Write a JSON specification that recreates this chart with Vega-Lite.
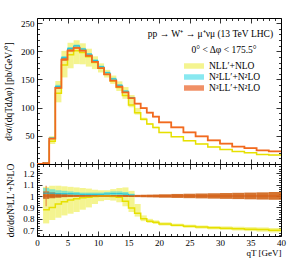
{
  "$schema": "https://vega.github.io/schema/vega-lite/v6.json",
  "padding": {"left": 3, "top": 17, "right": 9, "bottom": 0},
  "spacing": 0,
  "bounds": "flush",
  "config": {
    "font": "Liberation Serif",
    "view": {"stroke": "#000", "strokeWidth": 1},
    "axis": {"grid": false, "domain": false, "minExtent": 0, "tickColor": "#000", "labelColor": "#000", "titleColor": "#000", "labelFont": "Liberation Serif", "titleFont": "Liberation Serif", "labelFontSize": 9, "titleFontSize": 9.5, "titleFontWeight": "normal", "tickWidth": 0.8},
    "legend": {"labelFont": "Liberation Serif", "labelColor": "#000"}
  },
  "resolve": {"scale": {"fill": "independent"}},
  "datasets": {
    "tb": [
      {"model": "NLL′+NLO", "lo": 1, "hi": 2, "lower": 1.14, "upper": 1.62},
      {"model": "NLL′+NLO", "lo": 2, "hi": 3, "lower": 35.6, "upper": 49.1},
      {"model": "NLL′+NLO", "lo": 3, "hi": 4, "lower": 109.4, "upper": 147.2},
      {"model": "NLL′+NLO", "lo": 4, "hi": 5, "lower": 153.6, "upper": 200.7},
      {"model": "NLL′+NLO", "lo": 5, "hi": 6, "lower": 169.8, "upper": 215.1},
      {"model": "NLL′+NLO", "lo": 6, "hi": 7, "lower": 177.2, "upper": 219.5},
      {"model": "NLL′+NLO", "lo": 7, "hi": 8, "lower": 176.9, "upper": 214.1},
      {"model": "NLL′+NLO", "lo": 8, "hi": 9, "lower": 172.8, "upper": 204.5},
      {"model": "NLL′+NLO", "lo": 9, "hi": 10, "lower": 168.3, "upper": 191.0},
      {"model": "NLL′+NLO", "lo": 10, "hi": 11, "lower": 162.4, "upper": 178.5},
      {"model": "NLL′+NLO", "lo": 11, "hi": 12, "lower": 153.4, "upper": 167.0},
      {"model": "NLL′+NLO", "lo": 12, "hi": 13, "lower": 142.1, "upper": 156.9},
      {"model": "NLL′+NLO", "lo": 13, "hi": 14, "lower": 129.5, "upper": 146.6},
      {"model": "NLL′+NLO", "lo": 14, "hi": 15, "lower": 115.6, "upper": 136.5},
      {"model": "NLL′+NLO", "lo": 15, "hi": 16, "lower": 100.6, "upper": 122.3},
      {"model": "NLL′+NLO", "lo": 16, "hi": 17, "lower": 87.7, "upper": 99.5},
      {"model": "NLL′+NLO", "lo": 17, "hi": 18, "lower": 77.2, "upper": 82.2},
      {"model": "NLL′+NLO", "lo": 18, "hi": 19, "lower": 69.6, "upper": 72.8},
      {"model": "NLL′+NLO", "lo": 19, "hi": 20, "lower": 63.4, "upper": 66.1},
      {"model": "NLL′+NLO", "lo": 20, "hi": 22, "lower": 54.9, "upper": 57.0},
      {"model": "NLL′+NLO", "lo": 22, "hi": 24, "lower": 47.6, "upper": 49.3},
      {"model": "NLL′+NLO", "lo": 24, "hi": 26, "lower": 40.4, "upper": 41.9},
      {"model": "NLL′+NLO", "lo": 26, "hi": 28, "lower": 35.0, "upper": 36.4},
      {"model": "NLL′+NLO", "lo": 28, "hi": 30, "lower": 29.7, "upper": 31.0},
      {"model": "NLL′+NLO", "lo": 30, "hi": 32, "lower": 25.3, "upper": 26.4},
      {"model": "NLL′+NLO", "lo": 32, "hi": 34, "lower": 21.6, "upper": 22.7},
      {"model": "NLL′+NLO", "lo": 34, "hi": 36, "lower": 19.4, "upper": 20.4},
      {"model": "NLL′+NLO", "lo": 36, "hi": 38, "lower": 16.5, "upper": 17.4},
      {"model": "NLL′+NLO", "lo": 38, "hi": 40, "lower": 15.3, "upper": 16.2},
      {"model": "N²LL′+N²LO", "lo": 1, "hi": 2, "lower": 1.47, "upper": 1.61},
      {"model": "N²LL′+N²LO", "lo": 2, "hi": 3, "lower": 44.6, "upper": 47.2},
      {"model": "N²LL′+N²LO", "lo": 3, "hi": 4, "lower": 133.7, "upper": 140.5},
      {"model": "N²LL′+N²LO", "lo": 4, "hi": 5, "lower": 184.1, "upper": 191.5},
      {"model": "N²LL′+N²LO", "lo": 5, "hi": 6, "lower": 201.0, "upper": 207.5},
      {"model": "N²LL′+N²LO", "lo": 6, "hi": 7, "lower": 206.0, "upper": 211.8},
      {"model": "N²LL′+N²LO", "lo": 7, "hi": 8, "lower": 201.0, "upper": 206.0},
      {"model": "N²LL′+N²LO", "lo": 8, "hi": 9, "lower": 192.0, "upper": 196.8},
      {"model": "N²LL′+N²LO", "lo": 9, "hi": 10, "lower": 181.0, "upper": 185.6},
      {"model": "N²LL′+N²LO", "lo": 10, "hi": 11, "lower": 170.0, "upper": 174.4},
      {"model": "N²LL′+N²LO", "lo": 11, "hi": 12, "lower": 159.3, "upper": 163.8},
      {"model": "N²LL′+N²LO", "lo": 12, "hi": 13, "lower": 148.7, "upper": 153.0},
      {"model": "N²LL′+N²LO", "lo": 13, "hi": 14, "lower": 137.7, "upper": 141.6},
      {"model": "N²LL′+N²LO", "lo": 14, "hi": 15, "lower": 127.0, "upper": 130.6},
      {"model": "N²LL′+N²LO", "lo": 15, "hi": 16, "lower": 116.4, "upper": 119.0},
      {"model": "N³LL′+N²LO", "lo": 1, "hi": 2, "lower": 1.46, "upper": 1.56},
      {"model": "N³LL′+N²LO", "lo": 2, "hi": 3, "lower": 44.1, "upper": 46.4},
      {"model": "N³LL′+N²LO", "lo": 3, "hi": 4, "lower": 133.0, "upper": 138.0},
      {"model": "N³LL′+N²LO", "lo": 4, "hi": 5, "lower": 183.2, "upper": 188.0},
      {"model": "N³LL′+N²LO", "lo": 5, "hi": 6, "lower": 199.4, "upper": 203.4},
      {"model": "N³LL′+N²LO", "lo": 6, "hi": 7, "lower": 204.6, "upper": 208.1},
      {"model": "N³LL′+N²LO", "lo": 7, "hi": 8, "lower": 199.8, "upper": 202.6},
      {"model": "N³LL′+N²LO", "lo": 8, "hi": 9, "lower": 190.8, "upper": 193.3},
      {"model": "N³LL′+N²LO", "lo": 9, "hi": 10, "lower": 179.9, "upper": 182.3},
      {"model": "N³LL′+N²LO", "lo": 10, "hi": 11, "lower": 169.0, "upper": 171.2},
      {"model": "N³LL′+N²LO", "lo": 11, "hi": 12, "lower": 157.9, "upper": 160.1},
      {"model": "N³LL′+N²LO", "lo": 12, "hi": 13, "lower": 147.0, "upper": 149.2},
      {"model": "N³LL′+N²LO", "lo": 13, "hi": 14, "lower": 135.9, "upper": 138.1},
      {"model": "N³LL′+N²LO", "lo": 14, "hi": 15, "lower": 126.0, "upper": 128.1},
      {"model": "N³LL′+N²LO", "lo": 15, "hi": 16, "lower": 115.9, "upper": 118.1},
      {"model": "N³LL′+N²LO", "lo": 16, "hi": 17, "lower": 105.9, "upper": 108.1},
      {"model": "N³LL′+N²LO", "lo": 17, "hi": 18, "lower": 97.9, "upper": 100.1},
      {"model": "N³LL′+N²LO", "lo": 18, "hi": 19, "lower": 89.9, "upper": 92.1},
      {"model": "N³LL′+N²LO", "lo": 19, "hi": 20, "lower": 82.9, "upper": 85.1},
      {"model": "N³LL′+N²LO", "lo": 20, "hi": 22, "lower": 72.9, "upper": 75.1},
      {"model": "N³LL′+N²LO", "lo": 22, "hi": 24, "lower": 63.9, "upper": 66.2},
      {"model": "N³LL′+N²LO", "lo": 24, "hi": 26, "lower": 54.9, "upper": 57.1},
      {"model": "N³LL′+N²LO", "lo": 26, "hi": 28, "lower": 48.0, "upper": 50.1},
      {"model": "N³LL′+N²LO", "lo": 28, "hi": 30, "lower": 41.0, "upper": 43.0},
      {"model": "N³LL′+N²LO", "lo": 30, "hi": 32, "lower": 35.1, "upper": 36.9},
      {"model": "N³LL′+N²LO", "lo": 32, "hi": 34, "lower": 30.2, "upper": 31.9},
      {"model": "N³LL′+N²LO", "lo": 34, "hi": 36, "lower": 27.2, "upper": 28.8},
      {"model": "N³LL′+N²LO", "lo": 36, "hi": 38, "lower": 23.3, "upper": 24.8},
      {"model": "N³LL′+N²LO", "lo": 38, "hi": 40, "lower": 21.8, "upper": 23.3}
    ],
    "oline": [
      {"q": 0, "v": 0}, {"q": 1, "v": 1.5}, {"q": 2, "v": 45}, {"q": 3, "v": 135}, {"q": 4, "v": 185},
      {"q": 5, "v": 201}, {"q": 6, "v": 206}, {"q": 7, "v": 201}, {"q": 8, "v": 192}, {"q": 9, "v": 181},
      {"q": 10, "v": 170}, {"q": 11, "v": 159}, {"q": 12, "v": 148}, {"q": 13, "v": 137}, {"q": 14, "v": 127},
      {"q": 15, "v": 117}, {"q": 16, "v": 107}, {"q": 17, "v": 99}, {"q": 18, "v": 91}, {"q": 19, "v": 84},
      {"q": 20, "v": 74}, {"q": 22, "v": 65}, {"q": 24, "v": 56}, {"q": 26, "v": 49}, {"q": 28, "v": 42},
      {"q": 30, "v": 36}, {"q": 32, "v": 31}, {"q": 34, "v": 28}, {"q": 36, "v": 24}, {"q": 38, "v": 22.5},
      {"q": 40, "v": 22.5}
    ],
    "yline": [
      {"q": 1, "v": 1.32}, {"q": 2, "v": 40.5}, {"q": 3, "v": 125.6}, {"q": 4, "v": 175.8}, {"q": 5, "v": 194.0},
      {"q": 6, "v": 200.9}, {"q": 7, "v": 198.0}, {"q": 8, "v": 190.1}, {"q": 9, "v": 180.1}, {"q": 10, "v": 170},
      {"q": 11, "v": 159}, {"q": 12, "v": 147.3}, {"q": 13, "v": 135.6}, {"q": 14, "v": 121.3}, {"q": 15, "v": 104.7},
      {"q": 16, "v": 91.0}, {"q": 17, "v": 79.2}, {"q": 18, "v": 71.0}, {"q": 19, "v": 64.7}, {"q": 20, "v": 55.9},
      {"q": 22, "v": 48.4}, {"q": 24, "v": 41.2}, {"q": 26, "v": 35.7}, {"q": 28, "v": 30.3}, {"q": 30, "v": 25.8},
      {"q": 32, "v": 22.1}, {"q": 34, "v": 19.9}, {"q": 36, "v": 16.9}, {"q": 38, "v": 15.75}, {"q": 40, "v": 15.75}
    ],
    "cline": [
      {"q": 1, "v": 1.54}, {"q": 2, "v": 46.1}, {"q": 3, "v": 137.7}, {"q": 4, "v": 188.7}, {"q": 5, "v": 205.0},
      {"q": 6, "v": 209.7}, {"q": 7, "v": 204.0}, {"q": 8, "v": 194.9}, {"q": 9, "v": 183.7}, {"q": 10, "v": 172.6},
      {"q": 11, "v": 161.9}, {"q": 12, "v": 151.0}, {"q": 13, "v": 139.7}, {"q": 14, "v": 129.2}, {"q": 15, "v": 117.9},
      {"q": 16, "v": 117.9}
    ],
    "rY": [
      {"lo": 1, "hi": 2, "lower": 0.76, "upper": 1.08},
      {"lo": 2, "hi": 3, "lower": 0.79, "upper": 1.09},
      {"lo": 3, "hi": 4, "lower": 0.81, "upper": 1.09},
      {"lo": 4, "hi": 5, "lower": 0.83, "upper": 1.085},
      {"lo": 5, "hi": 6, "lower": 0.845, "upper": 1.08},
      {"lo": 6, "hi": 7, "lower": 0.86, "upper": 1.075},
      {"lo": 7, "hi": 8, "lower": 0.88, "upper": 1.07},
      {"lo": 8, "hi": 9, "lower": 0.90, "upper": 1.065},
      {"lo": 9, "hi": 10, "lower": 0.93, "upper": 1.055},
      {"lo": 10, "hi": 11, "lower": 0.955, "upper": 1.05},
      {"lo": 11, "hi": 12, "lower": 0.965, "upper": 1.05},
      {"lo": 12, "hi": 13, "lower": 0.96, "upper": 1.06},
      {"lo": 13, "hi": 14, "lower": 0.945, "upper": 1.07},
      {"lo": 14, "hi": 15, "lower": 0.91, "upper": 1.075},
      {"lo": 15, "hi": 16, "lower": 0.86, "upper": 1.045},
      {"lo": 16, "hi": 17, "lower": 0.82, "upper": 0.93},
      {"lo": 17, "hi": 18, "lower": 0.78, "upper": 0.83},
      {"lo": 18, "hi": 19, "lower": 0.765, "upper": 0.80},
      {"lo": 19, "hi": 20, "lower": 0.755, "upper": 0.787},
      {"lo": 20, "hi": 22, "lower": 0.742, "upper": 0.77},
      {"lo": 22, "hi": 24, "lower": 0.733, "upper": 0.758},
      {"lo": 24, "hi": 26, "lower": 0.722, "upper": 0.749},
      {"lo": 26, "hi": 28, "lower": 0.715, "upper": 0.742},
      {"lo": 28, "hi": 30, "lower": 0.708, "upper": 0.737},
      {"lo": 30, "hi": 32, "lower": 0.703, "upper": 0.734},
      {"lo": 32, "hi": 34, "lower": 0.698, "upper": 0.731},
      {"lo": 34, "hi": 36, "lower": 0.693, "upper": 0.728},
      {"lo": 36, "hi": 38, "lower": 0.688, "upper": 0.725},
      {"lo": 38, "hi": 40, "lower": 0.681, "upper": 0.72}
    ],
    "rC": [
      {"lo": 1, "hi": 2, "lower": 0.98, "upper": 1.07},
      {"lo": 2, "hi": 3, "lower": 0.99, "upper": 1.06},
      {"lo": 3, "hi": 4, "lower": 0.99, "upper": 1.05},
      {"lo": 4, "hi": 5, "lower": 0.995, "upper": 1.045},
      {"lo": 5, "hi": 6, "lower": 1.0, "upper": 1.04},
      {"lo": 6, "hi": 7, "lower": 1.0, "upper": 1.035},
      {"lo": 7, "hi": 8, "lower": 1.0, "upper": 1.03},
      {"lo": 8, "hi": 9, "lower": 1.0, "upper": 1.03},
      {"lo": 9, "hi": 10, "lower": 1.0, "upper": 1.03},
      {"lo": 10, "hi": 11, "lower": 1.0, "upper": 1.03},
      {"lo": 11, "hi": 12, "lower": 1.002, "upper": 1.035},
      {"lo": 12, "hi": 13, "lower": 1.005, "upper": 1.04},
      {"lo": 13, "hi": 14, "lower": 1.005, "upper": 1.04},
      {"lo": 14, "hi": 15, "lower": 1.0, "upper": 1.035},
      {"lo": 15, "hi": 16, "lower": 0.995, "upper": 1.02}
    ],
    "rO": [
      {"lo": 1, "hi": 2, "lower": 0.975, "upper": 1.04},
      {"lo": 2, "hi": 3, "lower": 0.98, "upper": 1.03},
      {"lo": 3, "hi": 4, "lower": 0.985, "upper": 1.022},
      {"lo": 4, "hi": 5, "lower": 0.99, "upper": 1.016},
      {"lo": 5, "hi": 6, "lower": 0.992, "upper": 1.012},
      {"lo": 6, "hi": 7, "lower": 0.993, "upper": 1.01},
      {"lo": 7, "hi": 8, "lower": 0.994, "upper": 1.008},
      {"lo": 8, "hi": 9, "lower": 0.994, "upper": 1.007},
      {"lo": 9, "hi": 10, "lower": 0.994, "upper": 1.007},
      {"lo": 10, "hi": 11, "lower": 0.994, "upper": 1.007},
      {"lo": 11, "hi": 12, "lower": 0.993, "upper": 1.007},
      {"lo": 12, "hi": 13, "lower": 0.993, "upper": 1.008},
      {"lo": 13, "hi": 14, "lower": 0.992, "upper": 1.008},
      {"lo": 14, "hi": 15, "lower": 0.992, "upper": 1.009},
      {"lo": 15, "hi": 16, "lower": 0.991, "upper": 1.009},
      {"lo": 16, "hi": 17, "lower": 0.99, "upper": 1.01},
      {"lo": 17, "hi": 18, "lower": 0.989, "upper": 1.011},
      {"lo": 18, "hi": 19, "lower": 0.988, "upper": 1.012},
      {"lo": 19, "hi": 20, "lower": 0.987, "upper": 1.013},
      {"lo": 20, "hi": 22, "lower": 0.985, "upper": 1.015},
      {"lo": 22, "hi": 24, "lower": 0.983, "upper": 1.018},
      {"lo": 24, "hi": 26, "lower": 0.981, "upper": 1.02},
      {"lo": 26, "hi": 28, "lower": 0.979, "upper": 1.022},
      {"lo": 28, "hi": 30, "lower": 0.977, "upper": 1.024},
      {"lo": 30, "hi": 32, "lower": 0.975, "upper": 1.026},
      {"lo": 32, "hi": 34, "lower": 0.973, "upper": 1.028},
      {"lo": 34, "hi": 36, "lower": 0.971, "upper": 1.03},
      {"lo": 36, "hi": 38, "lower": 0.969, "upper": 1.032},
      {"lo": 38, "hi": 40, "lower": 0.967, "upper": 1.035}
    ],
    "rerr": [{"q": 1.5, "lower": 0.91, "upper": 1.09}],
    "ryl": [
      {"q": 1, "r": 0.88}, {"q": 2, "r": 0.90}, {"q": 3, "r": 0.93}, {"q": 4, "r": 0.95}, {"q": 5, "r": 0.965},
      {"q": 6, "r": 0.975}, {"q": 7, "r": 0.985}, {"q": 8, "r": 0.99}, {"q": 9, "r": 0.995}, {"q": 10, "r": 1.0},
      {"q": 11, "r": 1.0}, {"q": 12, "r": 0.995}, {"q": 13, "r": 0.99}, {"q": 14, "r": 0.955}, {"q": 15, "r": 0.895},
      {"q": 16, "r": 0.85}, {"q": 17, "r": 0.80}, {"q": 18, "r": 0.78}, {"q": 19, "r": 0.77}, {"q": 20, "r": 0.755},
      {"q": 22, "r": 0.745}, {"q": 24, "r": 0.735}, {"q": 26, "r": 0.728}, {"q": 28, "r": 0.722}, {"q": 30, "r": 0.718},
      {"q": 32, "r": 0.714}, {"q": 34, "r": 0.71}, {"q": 36, "r": 0.706}, {"q": 38, "r": 0.70}, {"q": 40, "r": 0.70}
    ],
    "rcl": [
      {"q": 1, "r": 1.025}, {"q": 2, "r": 1.025}, {"q": 3, "r": 1.02}, {"q": 4, "r": 1.02}, {"q": 5, "r": 1.02},
      {"q": 6, "r": 1.018}, {"q": 7, "r": 1.015}, {"q": 8, "r": 1.015}, {"q": 9, "r": 1.015}, {"q": 10, "r": 1.015},
      {"q": 11, "r": 1.018}, {"q": 12, "r": 1.02}, {"q": 13, "r": 1.02}, {"q": 14, "r": 1.017}, {"q": 15, "r": 1.008},
      {"q": 16, "r": 1.008}
    ],
    "rol": [{"q": 1, "r": 1}, {"q": 40, "r": 1}]
  },
  "vconcat": [
    {
      "width": 244,
      "height": 146,
      "resolve": {"axis": {"x": "independent", "y": "independent"}},
      "layer": [
        {
          "data": {"name": "tb"},
          "mark": {"type": "rect", "opacity": 0.6},
          "encoding": {
            "x": {"field": "lo", "type": "quantitative", "scale": {"domain": [0, 40], "nice": false, "zero": false},
                  "axis": {"orient": "bottom", "values": [0, 5, 10, 15, 20, 25, 30, 35, 40], "labels": false, "tickSize": -5, "title": null}},
            "x2": {"field": "hi"},
            "y": {"field": "lower", "type": "quantitative", "scale": {"domain": [0, 259], "nice": false},
                  "axis": {"orient": "left", "values": [0, 50, 100, 150, 200, 250], "tickSize": -5, "labelPadding": 8, "title": "d²σ/(dqTdΔφ) [pb/GeV/°]", "titlePadding": 7}},
            "y2": {"field": "upper"},
            "fill": {"field": "model", "type": "nominal",
                     "scale": {"domain": ["NLL′+NLO", "N²LL′+N²LO", "N³LL′+N²LO"], "range": ["#eded46", "#39d9e6", "#e64600"]},
                     "legend": {"title": null, "orient": "none", "legendX": 152, "legendY": 43, "symbolType": "M-2,-0.55H2V0.55H-2Z", "symbolSize": 100, "labelFontSize": 9.5, "labelOffset": 10, "rowPadding": 1, "symbolStrokeWidth": 0}}
          }
        },
        {
          "data": {"name": "yline"},
          "mark": {"type": "line", "interpolate": "step-after", "color": "#e6e000", "strokeWidth": 1.5},
          "encoding": {
            "x": {"field": "q", "type": "quantitative", "scale": {"domain": [0, 40], "nice": false, "zero": false},
                  "axis": {"orient": "top", "values": [0, 5, 10, 15, 20, 25, 30, 35, 40], "labels": false, "tickSize": -5, "title": null}},
            "y": {"field": "v", "type": "quantitative", "scale": {"domain": [0, 259], "nice": false},
                  "axis": {"orient": "right", "values": [0, 50, 100, 150, 200, 250], "labels": false, "tickSize": -5, "title": null}}
          }
        },
        {
          "data": {"name": "cline"},
          "mark": {"type": "line", "interpolate": "step-after", "color": "#20c0d8", "strokeWidth": 1},
          "encoding": {
            "x": {"field": "q", "type": "quantitative", "scale": {"domain": [0, 40], "nice": false, "zero": false},
                  "axis": {"orient": "bottom", "values": [1,2,3,4,6,7,8,9,11,12,13,14,16,17,18,19,21,22,23,24,26,27,28,29,31,32,33,34,36,37,38,39], "labels": false, "tickSize": -2.5, "title": null}},
            "y": {"field": "v", "type": "quantitative", "scale": {"domain": [0, 259], "nice": false},
                  "axis": {"orient": "left", "values": [10,20,30,40,60,70,80,90,110,120,130,140,160,170,180,190,210,220,230,240], "labels": false, "tickSize": -2.5, "title": null}}
          }
        },
        {
          "data": {"name": "oline"},
          "mark": {"type": "line", "interpolate": "step-after", "color": "#f26a1e", "strokeWidth": 1.8},
          "encoding": {
            "x": {"field": "q", "type": "quantitative", "scale": {"domain": [0, 40], "nice": false, "zero": false},
                  "axis": {"orient": "top", "values": [1,2,3,4,6,7,8,9,11,12,13,14,16,17,18,19,21,22,23,24,26,27,28,29,31,32,33,34,36,37,38,39], "labels": false, "tickSize": -2.5, "title": null}},
            "y": {"field": "v", "type": "quantitative", "scale": {"domain": [0, 259], "nice": false},
                  "axis": {"orient": "right", "values": [10,20,30,40,60,70,80,90,110,120,130,140,160,170,180,190,210,220,230,240], "labels": false, "tickSize": -2.5, "title": null}}
          }
        },
        {
          "data": {"values": [{"label": "pp → W⁺ → μ⁺νμ (13 TeV LHC)"}]},
          "mark": {"type": "text", "align": "right", "baseline": "middle", "fontSize": 9.5, "color": "#000"},
          "encoding": {
            "x": {"datum": 38.7, "type": "quantitative", "axis": null},
            "y": {"datum": 231, "type": "quantitative", "axis": null},
            "text": {"field": "label"}
          }
        },
        {
          "data": {"values": [{"label": "0° < Δφ < 175.5°"}]},
          "mark": {"type": "text", "align": "right", "baseline": "middle", "fontSize": 9.5, "color": "#000"},
          "encoding": {
            "x": {"datum": 36.0, "type": "quantitative", "axis": null},
            "y": {"datum": 203, "type": "quantitative", "axis": null},
            "text": {"field": "label"}
          }
        }
      ]
    },
    {
      "width": 244,
      "height": 72,
      "resolve": {"axis": {"x": "independent", "y": "independent"}},
      "layer": [
        {
          "data": {"name": "rY"},
          "mark": {"type": "rect", "opacity": 0.6, "fill": "#eded46"},
          "encoding": {
            "x": {"field": "lo", "type": "quantitative", "scale": {"domain": [0, 40], "nice": false, "zero": false},
                  "axis": {"orient": "bottom", "values": [0, 5, 10, 15, 20, 25, 30, 35, 40], "tickSize": -5, "labelPadding": 7, "labelFlush": false, "title": "qT [GeV]", "titleAnchor": "end", "titlePadding": 1, "titleFontSize": 9}},
            "x2": {"field": "hi"},
            "y": {"field": "lower", "type": "quantitative", "scale": {"domain": [0.65, 1.28], "nice": false, "zero": false},
                  "axis": {"orient": "left", "values": [0.7, 0.8, 0.9, 1, 1.1, 1.2], "format": "~g", "tickSize": -5, "labelPadding": 8, "title": "dσ/dσN³LL′+N²LO", "titlePadding": 7}},
            "y2": {"field": "upper"}
          }
        },
        {
          "data": {"name": "rC"},
          "mark": {"type": "rect", "opacity": 0.6, "fill": "#39d9e6"},
          "encoding": {
            "x": {"field": "lo", "type": "quantitative", "scale": {"domain": [0, 40], "nice": false, "zero": false},
                  "axis": {"orient": "top", "values": [0, 5, 10, 15, 20, 25, 30, 35, 40], "labels": false, "tickSize": -5, "title": null}},
            "x2": {"field": "hi"},
            "y": {"field": "lower", "type": "quantitative", "scale": {"domain": [0.65, 1.28], "nice": false, "zero": false},
                  "axis": {"orient": "right", "values": [0.7, 0.8, 0.9, 1, 1.1, 1.2], "labels": false, "tickSize": -5, "title": null}},
            "y2": {"field": "upper"}
          }
        },
        {
          "data": {"name": "rO"},
          "mark": {"type": "rect", "opacity": 0.9, "fill": "#cf6418"},
          "encoding": {
            "x": {"field": "lo", "type": "quantitative", "scale": {"domain": [0, 40], "nice": false, "zero": false},
                  "axis": {"orient": "bottom", "values": [1,2,3,4,6,7,8,9,11,12,13,14,16,17,18,19,21,22,23,24,26,27,28,29,31,32,33,34,36,37,38,39], "labels": false, "tickSize": -2.5, "title": null}},
            "x2": {"field": "hi"},
            "y": {"field": "lower", "type": "quantitative", "scale": {"domain": [0.65, 1.28], "nice": false, "zero": false},
                  "axis": {"orient": "left", "values": [0.66,0.68,0.72,0.74,0.76,0.78,0.82,0.84,0.86,0.88,0.92,0.94,0.96,0.98,1.02,1.04,1.06,1.08,1.12,1.14,1.16,1.18,1.22,1.24,1.26], "labels": false, "tickSize": -2.5, "title": null}},
            "y2": {"field": "upper"}
          }
        },
        {
          "data": {"name": "rerr"},
          "mark": {"type": "rule", "color": "#e8843a", "opacity": 0.7, "strokeWidth": 1.5},
          "encoding": {
            "x": {"field": "q", "type": "quantitative", "scale": {"domain": [0, 40], "nice": false, "zero": false},
                  "axis": {"orient": "top", "values": [1,2,3,4,6,7,8,9,11,12,13,14,16,17,18,19,21,22,23,24,26,27,28,29,31,32,33,34,36,37,38,39], "labels": false, "tickSize": -2.5, "title": null}},
            "y": {"field": "lower", "type": "quantitative", "scale": {"domain": [0.65, 1.28], "nice": false, "zero": false},
                  "axis": {"orient": "right", "values": [0.66,0.68,0.72,0.74,0.76,0.78,0.82,0.84,0.86,0.88,0.92,0.94,0.96,0.98,1.02,1.04,1.06,1.08,1.12,1.14,1.16,1.18,1.22,1.24,1.26], "labels": false, "tickSize": -2.5, "title": null}},
            "y2": {"field": "upper"}
          }
        },
        {
          "data": {"name": "ryl"},
          "mark": {"type": "line", "interpolate": "step-after", "color": "#e6e000", "strokeWidth": 1.5},
          "encoding": {
            "x": {"field": "q", "type": "quantitative", "scale": {"domain": [0, 40], "nice": false, "zero": false}, "axis": null},
            "y": {"field": "r", "type": "quantitative", "scale": {"domain": [0.65, 1.28], "nice": false, "zero": false}, "axis": null}
          }
        },
        {
          "data": {"name": "rcl"},
          "mark": {"type": "line", "interpolate": "step-after", "color": "#20c0d8", "strokeWidth": 1},
          "encoding": {
            "x": {"field": "q", "type": "quantitative", "scale": {"domain": [0, 40], "nice": false, "zero": false}, "axis": null},
            "y": {"field": "r", "type": "quantitative", "scale": {"domain": [0.65, 1.28], "nice": false, "zero": false}, "axis": null}
          }
        },
        {
          "data": {"name": "rol"},
          "mark": {"type": "line", "color": "#d85a10", "strokeWidth": 1.2},
          "encoding": {
            "x": {"field": "q", "type": "quantitative", "scale": {"domain": [0, 40], "nice": false, "zero": false}, "axis": null},
            "y": {"field": "r", "type": "quantitative", "scale": {"domain": [0.65, 1.28], "nice": false, "zero": false}, "axis": null}
          }
        }
      ]
    }
  ]
}
